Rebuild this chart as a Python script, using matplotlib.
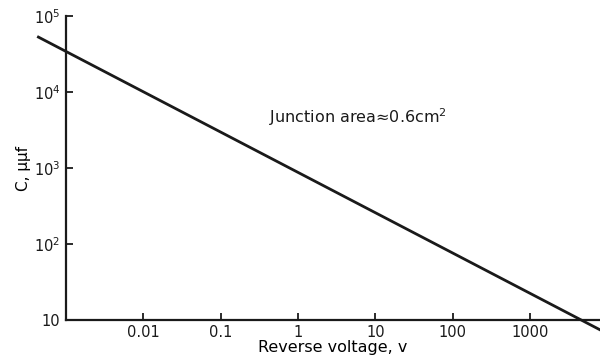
import matplotlib.pyplot as plt
from matplotlib.ticker import FixedLocator, NullLocator

voltage = [0.00044, 8000]
capacitance = [53000, 7.4]

x_ticks = [0.01, 0.1, 1, 10, 100, 1000]
x_labels = ["0.01", "0.1", "1", "10", "100", "1000"]
y_ticks = [10, 1e2, 1e3, 1e4, 1e5]
y_labels = ["10", r"$10^2$", r"$10^3$", r"$10^4$", r"$10^5$"]

fig = plt.figure(figsize=(6, 3.59), dpi=100)
ax = fig.add_axes([0.11, 0.109, 0.89, 0.846])

ax.plot(voltage, capacitance, color="#1a1a1a", lw=2, clip_on=False)

ax.set_xscale("log")
ax.set_yscale("log")
ax.set_xlim(0.001, 8000)
ax.set_ylim(10, 1e5)

ax.xaxis.set_major_locator(FixedLocator(x_ticks))
ax.xaxis.set_minor_locator(NullLocator())
ax.set_xticklabels(x_labels)
ax.yaxis.set_major_locator(FixedLocator(y_ticks))
ax.yaxis.set_minor_locator(NullLocator())
ax.set_yticklabels(y_labels)

for s in ["top", "right"]:
    ax.spines[s].set_visible(False)
for s in ["left", "bottom"]:
    ax.spines[s].set_linewidth(1.6)
    ax.spines[s].set_color("#1a1a1a")

ax.tick_params(direction="in", length=5, width=1.3, labelsize=10.5, colors="#1a1a1a", pad=4)

ax.set_xlabel("Reverse voltage, v", fontsize=11.5, labelpad=0)
ax.set_ylabel("C, μμf", fontsize=11, labelpad=2)

ax.text(0.001 * 10 ** ((268 - 66) / 77), 10 ** (5 - (117 - 16) / 76), "Junction area≈0.6cm$^2$",
        fontsize=11.5, va="center", ha="left", color="#1a1a1a")

fig.savefig("out.png", dpi=100)
